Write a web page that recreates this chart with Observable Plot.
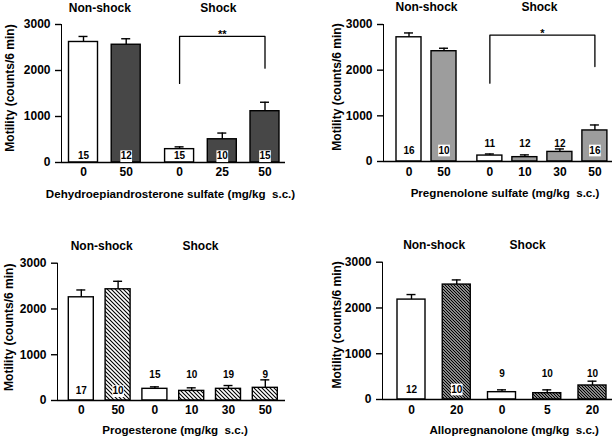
<!DOCTYPE html>
<html>
<head>
<meta charset="utf-8">
<script src="https://cdn.jsdelivr.net/npm/d3@7"></script>
<script src="https://cdn.jsdelivr.net/npm/@observablehq/plot@0.6"></script>
<style>
  body { margin: 0; background: #fff; }
  #wrap { position: relative; width: 615px; height: 438px; overflow: hidden; background: #fff; }
  .panel { position: absolute; }
  #wrap svg [aria-label^="y-axis"], #wrap svg [aria-label^="y-axis"] path, #wrap svg [aria-label^="y-axis"] line { stroke-width: 1.4px; }
</style>
</head>
<body>
<div id="wrap"></div>
<script>
// ---------------- data ----------------
const groupLabels = ["Non-shock", "Shock"];
const yLabel = "Motility (counts/6 min)";
const yTicks = [0, 1000, 2000, 3000];

// Panel A: dehydroepiandrosterone sulfate
const dheasDrug = "Dehydroepiandrosterone sulfate (mg/kg\u00a0 s.c.)";
const dheasGroups = ["Non-shock", "Non-shock", "Shock", "Shock", "Shock"];
const dheasDoses = ["0", "50", "0", "25", "50"];
const dheasMeans = [2620, 2560, 290, 505, 1115];
const dheasSEM = [120, 130, 50, 135, 195];
const dheasN = [15, 12, 15, 10, 15];
const dheasBracket = { from: 2, to: 4, top: 2740, leftEnd: 1720, rightEnd: 2050, mark: "**" };

// Panel B: pregnenolone sulfate
const pregsDrug = "Pregnenolone sulfate (mg/kg\u00a0 s.c.)";
const pregsGroups = ["Non-shock", "Non-shock", "Shock", "Shock", "Shock", "Shock"];
const pregsDoses = ["0", "50", "0", "10", "30", "50"];
const pregsMeans = [2720, 2415, 130, 95, 210, 680];
const pregsSEM = [95, 65, 35, 50, 65, 120];
const pregsN = [16, 10, 11, 12, 12, 16];
const pregsBracket = { from: 2, to: 5, top: 2766, leftEnd: 1715, rightEnd: 2080, mark: "*" };

// Panel C: progesterone
const progDrug = "Progesterone (mg/kg\u00a0 s.c.)";
const progGroups = ["Non-shock", "Non-shock", "Shock", "Shock", "Shock", "Shock"];
const progDoses = ["0", "50", "0", "10", "30", "50"];
const progMeans = [2255, 2430, 255, 210, 255, 277];
const progSEM = [160, 175, 43, 67, 72, 174];
const progN = [17, 10, 15, 10, 19, 9];

// Panel D: allopregnanolone
const alloDrug = "Allopregnanolone (mg/kg\u00a0 s.c.)";
const alloGroups = ["Non-shock", "Non-shock", "Shock", "Shock", "Shock"];
const alloDoses = ["0", "20", "0", "5", "20"];
const alloMeans = [2183, 2511, 160, 138, 306];
const alloSEM = [110, 102, 51, 73, 94];
const alloN = [12, 10, 9, 10, 10];

// ---------------- layout / style ----------------
const FONT = "'Liberation Sans', Arial, Helvetica, sans-serif";

const panels = [
  { data: { drug: dheasDrug, groups: dheasGroups, doses: dheasDoses, means: dheasMeans, sem: dheasSEM, n: dheasN, bracket: dheasBracket },
    L: { left: 0, top: 0, width: 300, height: 218, mL: 61, mR: 15, mT: 24, mB: 56, gap: 0.25, c0: 83, c1: 264.5, barW: 29,
         pattern: "solid", color: "#474747", titleDx: [-5, -4], titleDy: -16.5, yLabDx: -51, yLabDy: -5.5,
         xLabDx: -3, xLabDy: 31.3, tickPad: 5, inDy: -6.3, aboveDy: -18, above: [] } },
  { data: { drug: pregsDrug, groups: pregsGroups, doses: pregsDoses, means: pregsMeans, sem: pregsSEM, n: pregsN, bracket: pregsBracket },
    L: { left: 300, top: 0, width: 315, height: 218, mL: 83, mR: 3, mT: 24, mB: 57, gap: 0.31, c0: 108.5, c1: 294.4, barW: 25,
         pattern: "solid", color: "#9d9d9d", titleDx: [0, -3], titleDy: -17, yLabDx: -46.3, yLabDy: -6,
         xLabDx: 7, xLabDy: 31.7, tickPad: 6, inDy: -11, aboveDy: -17.7, above: [2, 3, 4] } },
  { data: { drug: progDrug, groups: progGroups, doses: progDoses, means: progMeans, sem: progSEM, n: progN },
    L: { left: 0, top: 218, width: 300, height: 220, mL: 57, mR: 15, mT: 44.7, mB: 38, gap: 0, c0: 80.8, c1: 264.8, barW: 25,
         pattern: "hatch", spacing: 4, lineW: 1.1, titleDx: [2, -9.6], titleDy: -17, yLabDx: -48, yLabDy: -4.6,
         xLabDx: 3.5, xLabDy: 30, tickPad: 5, inDy: -9.3, aboveDy: -26, above: [2, 3, 4, 5] } },
  { data: { drug: alloDrug, groups: alloGroups, doses: alloDoses, means: alloMeans, sem: alloSEM, n: alloN },
    L: { left: 300, top: 218, width: 315, height: 220, mL: 82, mR: 3, mT: 43.7, mB: 39, gap: 0, c0: 111, c1: 292, barW: 28,
         pattern: "hatch", spacing: 3, lineW: 1.35, titleDx: [0, -19.7], titleDy: -16.7, yLabDx: -45.3, yLabDy: -6,
         xLabDx: 16.7, xLabDy: 30.3, tickPad: 6, inDy: -10, aboveDy: -25.7, above: [2, 3, 4] } }
];

function patternMarkup(id, L) {
  if (L.pattern === "solid") {
    return `<pattern id="${id}" patternUnits="userSpaceOnUse" width="4" height="4"><rect width="4" height="4" fill="${L.color}"/></pattern>`;
  }
  const s = L.spacing;
  return `<pattern id="${id}" patternUnits="userSpaceOnUse" width="${s}" height="${s}">` +
    `<rect width="${s}" height="${s}" fill="white"/>` +
    `<path d="M0,0L${s},${s}M${s - 1},-1L${s + 1},1M-1,${s - 1}L1,${s + 1}" stroke="black" stroke-width="${L.lineW}"/>` +
    `</pattern>`;
}

function renderPanel(data, L, idx) {
  const n = data.doses.length;
  const pos = data.groups.map((g, i) => i + (g === "Shock" ? L.gap : 0));
  const rows = pos.map((p, i) => ({
    i, p, dose: data.doses[i], group: data.groups[i],
    mean: data.means[i], hi: data.means[i] + data.sem[i], n: data.n[i],
    control: data.doses[i] === "0"
  }));
  const last = pos[n - 1];
  const u = (L.c1 - L.c0) / last;
  const hw = L.barW / 2 / u;
  const cap = 4.5 / u;
  const tickMap = new Map(pos.map((p, i) => [p, data.doses[i]]));
  const groupCenters = groupLabels.map(g => {
    const ps = rows.filter(r => r.group === g).map(r => r.p);
    return { g, p: (Math.min(...ps) + Math.max(...ps)) / 2 };
  });
  const fillId = `barfill${idx}`;
  const inside = rows.filter(r => !L.above.includes(r.i));
  const above = rows.filter(r => L.above.includes(r.i));

  const marks = [
    Plot.rect(rows.filter(r => r.control), { x1: d => d.p - hw, x2: d => d.p + hw, y1: 0, y2: "mean", fill: "white", stroke: "black", strokeWidth: 1.4 }),
    Plot.rect(rows.filter(r => !r.control), { x1: d => d.p - hw, x2: d => d.p + hw, y1: 0, y2: "mean", fill: `url(#${fillId})`, stroke: "black", strokeWidth: 1.4 }),
    Plot.ruleX(rows, { x: "p", y1: "mean", y2: "hi", stroke: "black", strokeWidth: 1.4 }),
    Plot.ruleY(rows, { y: "hi", x1: d => d.p - cap, x2: d => d.p + cap, stroke: "black", strokeWidth: 1.4 }),
    Plot.ruleY([0], { stroke: "black", strokeWidth: 1.4 }),
    Plot.dot(inside.filter(r => !r.control), { x: "p", y: 0, dy: L.inDy, symbol: "square", r: 6.6, fill: "white", stroke: "none" }),
    Plot.text(inside, { x: "p", y: 0, dy: L.inDy, text: d => String(d.n), fontSize: 10, fontWeight: "bold", fill: "black", lineAnchor: "middle" }),
    Plot.text(above, { x: "p", y: 0, dy: L.aboveDy, text: d => String(d.n), fontSize: 10, fontWeight: "bold", fill: "black", lineAnchor: "middle" }),
    Plot.text(groupCenters.slice(0, 1), { x: "p", frameAnchor: "top", text: "g", dx: L.titleDx[0], dy: L.titleDy, fontSize: 12, fontWeight: "bold", fill: "black", lineAnchor: "middle" }),
    Plot.text(groupCenters.slice(1, 2), { x: "p", frameAnchor: "top", text: "g", dx: L.titleDx[1], dy: L.titleDy, fontSize: 12, fontWeight: "bold", fill: "black", lineAnchor: "middle" }),
    Plot.text([yLabel], { frameAnchor: "left", rotate: -90, dx: L.yLabDx, dy: L.yLabDy, fontSize: 12, fontWeight: "bold", fill: "black", lineAnchor: "middle", textAnchor: "middle" }),
    Plot.text([data.drug], { frameAnchor: "bottom", dx: L.xLabDx, dy: L.xLabDy, fontSize: 11.6, fontWeight: "bold", fill: "black", lineAnchor: "middle", textAnchor: "middle" })
  ];

  if (data.bracket) {
    const b = data.bracket;
    const x0 = pos[b.from], x1 = pos[b.to];
    const pts = [
      { x: x0, y: b.leftEnd }, { x: x0, y: b.top }, { x: x1, y: b.top }, { x: x1, y: b.rightEnd }
    ];
    marks.push(Plot.line(pts, { x: "x", y: "y", stroke: "black", strokeWidth: 1.3 }));
    marks.push(Plot.text([b.mark], { x: () => (x0 + x1) / 2, y: () => b.top, dy: -1.5, fontSize: 11, fontWeight: "bold", fill: "black", lineAnchor: "middle" }));
  }

  const svg = Plot.plot({
    width: L.width,
    height: L.height,
    marginLeft: L.mL,
    marginRight: L.mR,
    marginTop: L.mT,
    marginBottom: L.mB,
    style: { fontFamily: FONT, fontWeight: "bold", fontSize: "12px", color: "black", background: "transparent", overflow: "visible" },
    x: { domain: [0, last], range: [L.c0, L.c1], ticks: pos, tickFormat: d => tickMap.get(d), tickSize: 0, tickPadding: L.tickPad, label: null, axis: "bottom" },
    y: { domain: [0, 3000], ticks: yTicks, tickFormat: d => String(d), tickSize: 6, tickPadding: 5, label: null, line: true },
    marks
  });

  const ns = "http://www.w3.org/2000/svg";
  const defs = document.createElementNS(ns, "defs");
  defs.innerHTML = patternMarkup(fillId, L);
  svg.insertBefore(defs, svg.firstChild);

  const div = document.createElement("div");
  div.className = "panel";
  div.style.left = L.left + "px";
  div.style.top = L.top + "px";
  div.appendChild(svg);
  document.getElementById("wrap").appendChild(div);
}

panels.forEach((pnl, idx) => renderPanel(pnl.data, pnl.L, idx));
</script>
</body>
</html>
